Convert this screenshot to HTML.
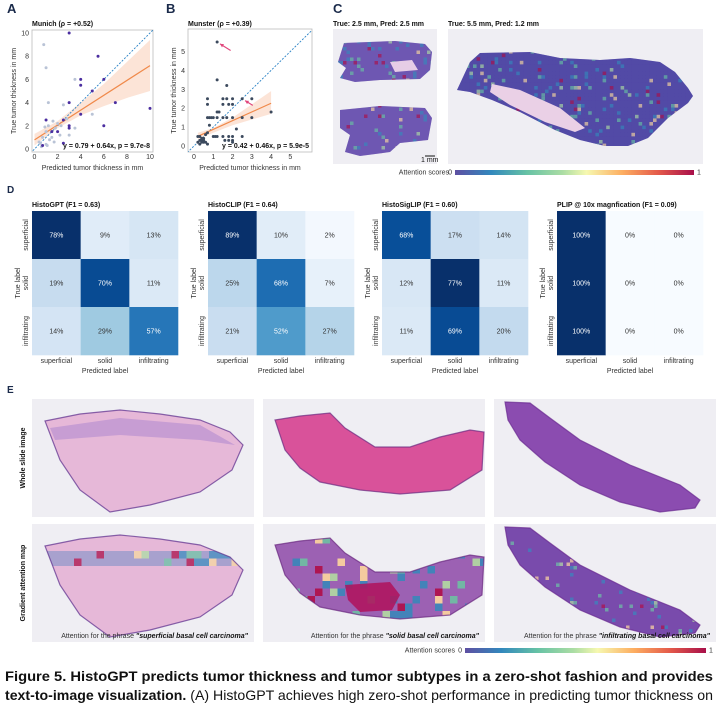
<!DOCTYPE html>
<html><head><meta charset="utf-8">
<style>
html,body{margin:0;padding:0;background:#fff;}
svg{display:block;font-family:"Liberation Sans",Arial,sans-serif;}
.t{font-size:7px;fill:#333;}
.tb{font-size:7px;font-weight:bold;fill:#111;}
.pl{font-size:13px;font-weight:bold;fill:#1a2a4a;}
</style></head>
<body>
<svg id="fig" width="728" height="708" viewBox="0 0 728 708" xmlns="http://www.w3.org/2000/svg">
<defs>
<linearGradient id="spec" x1="0" x2="1" y1="0" y2="0">
<stop offset="0" stop-color="#5e4fa2"/><stop offset="0.15" stop-color="#3288bd"/><stop offset="0.3" stop-color="#66c2a5"/><stop offset="0.45" stop-color="#abdda4"/><stop offset="0.55" stop-color="#f6f8b0"/><stop offset="0.7" stop-color="#fdae61"/><stop offset="0.85" stop-color="#e45a4a"/><stop offset="1" stop-color="#a80f4a"/>
</linearGradient>
<clipPath id="cA"><rect x="32" y="30" width="121" height="122"/></clipPath>
<clipPath id="cB"><rect x="188" y="29" width="124" height="123"/></clipPath>
</defs>
<g id="panelA"></g>
<g id="panelB"></g>
<g id="panelC"></g>
<g id="panelD"></g>
<g id="panelE"></g>
<g>
<text x="5" y="681" textLength="708" lengthAdjust="spacingAndGlyphs" style="font-size:14px;font-weight:bold;fill:#111;">Figure 5. HistoGPT predicts tumor thickness and tumor subtypes in a zero-shot fashion and provides</text>
<text x="5" y="700" textLength="708" lengthAdjust="spacingAndGlyphs" style="font-size:14px;fill:#111;"><tspan font-weight="bold">text-to-image visualization.</tspan> (A) HistoGPT achieves high zero-shot performance in predicting tumor thickness on</text>
</g>
</svg>
<script>
// ---------- DATA ----------
const munichDarkX=[3,5.5,4,6,4,5,3,7,10,4,6,3,2.5,0.7,1,1.5,2.5,2,3];
const munichDarkY=[10,8,6,6,5.5,5,4,4,3.5,3,2,2,0.5,0.3,2.5,1.5,2.5,1.5,1.8];
const munichLightX=[0.8,1,3.5,1.2,2.5,5,3.5,3,0.5,0.7,1,1.2,1.5,1.8,2,0.6,1,1.3,2.2,1.6,0.9,2.8,1.1,0.4,1.7,2.3];
const munichLightY=[9,7,6,4,3.8,3,1.8,1.2,0.5,1,1.5,2,1,1.8,2.2,0.2,0.4,0.8,1.2,2.4,1.9,2.6,0.3,0.6,0.6,2];
const munichFit=[0.79,0.64];
const munichBandX=[0,2,4,6,8,10];
const munichBandLo=[0.3,1.8,2.9,3.7,4.4,5.0];
const munichBandHi=[1.3,2.4,4.0,5.6,7.5,9.4];
const munichTicks=[0,2,4,6,8,10];

const munsterX=[1.2,1.2,1.7,0.7,0.7,1.5,1.7,2,2.5,3,1.5,1.8,2,1.2,1.3,4,0.7,0.8,0.9,1,1.2,1.5,1.7,2,2.5,3,0.8,2.2,0.7,0.6,0.3,0.2,1,1.1,1.2,1.5,1.8,2,2.5,0.4,0.5,0.3,0.2,0.4,0.5,0.6,1.6,1.8,2,2,0.3,0.7,0.4,0.5];
const munsterY=[5.5,3.5,3.2,2.5,2.2,2.5,2.5,2.5,2.5,2.5,2.2,2.2,2.2,1.8,1.8,1.8,1.5,1.5,1.5,1.5,1.5,1.5,1.5,1.5,1.5,1.5,1.1,0.9,0.7,0.6,0.5,0.5,0.5,0.5,0.5,0.5,0.5,0.5,0.5,0.4,0.4,0.3,0.2,0.2,0.3,0.2,0.3,0.3,0.3,0.2,0.1,0.1,0.3,0.2];
const munsterFit=[0.42,0.46];
const munsterBandX=[0.2,1,2,3,4];
const munsterBandLo=[0.35,0.7,1.1,1.4,1.7];
const munsterBandHi=[0.7,0.95,1.5,2.2,2.9];
const munsterTicks=[0,1,2,3,4,5];

const cmClasses=["superficial","solid","infiltrating"];
const cmTitles=["HistoGPT (F1 = 0.63)","HistoCLIP (F1 = 0.64)","HistoSigLIP (F1 = 0.60)","PLIP @ 10x magnfication (F1 = 0.09)"];
const cmHistoGPT=[[78,9,13],[19,70,11],[14,29,57]];
const cmHistoCLIP=[[89,10,2],[25,68,7],[21,52,27]];
const cmHistoSigLIP=[[68,17,14],[12,77,11],[11,69,20]];
const cmPLIP=[[100,0,0],[100,0,0],[100,0,0]];

// ---------- HELPERS ----------
const NS="http://www.w3.org/2000/svg";
function mk(tag,attrs,parent,txt){const e=document.createElementNS(NS,tag);for(const k in attrs)e.setAttribute(k,attrs[k]);if(txt!==undefined)e.textContent=txt;parent.appendChild(e);return e;}
function lin(d0,d1,r0,r1){return v=>r0+(v-d0)/(d1-d0)*(r1-r0);}

// ---------- SCATTER ----------
function scatter(g,cfg){
  const sx=lin(0,cfg.xmax,cfg.x0,cfg.x1), sy=lin(0,cfg.ymax,cfg.y0,cfg.y1);
  let el=mk('text',{x:cfg.lx,y:13,class:'pl'},g,cfg.letter);
  
  
  el=mk('text',{x:cfg.bx0,y:26,class:'tb'},g,cfg.title);
  
  
  el=mk('rect',{x:cfg.bx0,y:cfg.by0,width:cfg.bx1-cfg.bx0,height:cfg.by1-cfg.by0,fill:'#fff',stroke:'#bbb','stroke-width':0.8},g);
  
  
  const cg=mk('g',{'clip-path':'url(#'+cfg.clip+')'},g);
  let pts=cfg.bandX.map((x,i)=>sx(x)+','+sy(cfg.bandHi[i]));
  for(let i=cfg.bandX.length-1;i>=0;i--)pts.push(sx(cfg.bandX[i])+','+sy(cfg.bandLo[i]));
  el=mk('polygon',{points:pts.join(' '),fill:'#fbd9c6','fill-opacity':0.7},cg);
  
  
  el=mk('line',{x1:sx(-1),y1:sy(-1),x2:sx(cfg.xmax+1),y2:sy(cfg.xmax+1),stroke:'#2b83c6','stroke-width':0.9,'stroke-dasharray':'2,1.5'},cg);
  
  
  const fx0=cfg.bandX[0],fx1=cfg.bandX[cfg.bandX.length-1];
  el=mk('line',{x1:sx(fx0),y1:sy(cfg.fit[0]+cfg.fit[1]*fx0),x2:sx(fx1),y2:sy(cfg.fit[0]+cfg.fit[1]*fx1),stroke:'#f0894a','stroke-width':1.2},cg);
  
  
  cfg.series.forEach(s=>{
    s.x.forEach((x,i)=>{
      const c=mk('circle',{cx:sx(x),cy:sy(s.y[i]),r:1.5,fill:s.color},cg);
      
      
    });
  });
  cfg.ticks.forEach(t=>{
    if(t<=cfg.xmax){const e=mk('text',{x:sx(t),y:cfg.by1+7,class:'t','text-anchor':'middle'},g,String(t));
    
    }
    if(t<=cfg.ymax){const e=mk('text',{x:cfg.bx0-3,y:sy(t)+2.5,class:'t','text-anchor':'end'},g,String(t));
    
    }
  });
  el=mk('text',{x:(cfg.bx0+cfg.bx1)/2,y:170,class:'t','text-anchor':'middle'},g,'Predicted tumor thickness in mm');
  
  
  const yc=(cfg.by0+cfg.by1)/2;
  el=mk('text',{x:cfg.ylx,y:yc,class:'t','text-anchor':'middle',transform:'rotate(-90 '+cfg.ylx+' '+yc+')'},g,'True tumor thickness in mm');
  
  
  el=mk('text',{x:cfg.bx1-3,y:cfg.by1-4,class:'tb','text-anchor':'end'},g,cfg.eq);
  
  
  return {sx,sy};
}
const A=scatter(document.getElementById('panelA'),{letter:'A',lx:7,title:'Munich (\u03C1 = +0.52)',bx0:32,bx1:153,by0:30,by1:152,x0:34.5,x1:150,y0:149,y1:33,xmax:10,ymax:10,clip:'cA',
 bandX:munichBandX,bandLo:munichBandLo,bandHi:munichBandHi,fit:munichFit,ticks:munichTicks,ylx:16,
 series:[{x:munichLightX,y:munichLightY,color:'#b9c3d6'},{x:munichDarkX,y:munichDarkY,color:'#4b2ea0'}],
 eq:'y = 0.79 + 0.64x, p = 9.7e-8'});
const B=scatter(document.getElementById('panelB'),{letter:'B',lx:166,title:'Munster (\u03C1 = +0.39)',bx0:188,bx1:312,by0:29,by1:152,x0:194,x1:300,y0:146,y1:42,xmax:5.5,ymax:5.5,clip:'cB',
 bandX:munsterBandX,bandLo:munsterBandLo,bandHi:munsterBandHi,fit:munsterFit,ticks:munsterTicks,ylx:176,
 series:[{x:munsterX,y:munsterY,color:'#3c4a5e'}],
 eq:'y = 0.42 + 0.46x, p = 5.9e-5'});
(function(){const g=document.getElementById('panelB');
 [[1.35,5.4,1.9,5.05],[2.65,2.4,3.05,2.15]].forEach(a=>{
  const x1=B.sx(a[2]),y1=B.sy(a[3]),x2=B.sx(a[0]),y2=B.sy(a[1]);
  const ar=mk('g',{},g);
  
  
  mk('line',{x1,y1,x2,y2,stroke:'#e0457b','stroke-width':1.1},ar);
  const ang=Math.atan2(y2-y1,x2-x1);const L=4;
  const p=[[x2,y2],[x2-L*Math.cos(ang-0.5),y2-L*Math.sin(ang-0.5)],[x2-L*Math.cos(ang+0.5),y2-L*Math.sin(ang+0.5)]];
  mk('polygon',{points:p.map(q=>q.join(',')).join(' '),fill:'#e0457b'},ar);
 });})();

// ---------- TISSUE HELPERS (decorative texture) ----------
const spec=['#3288bd','#66c2a5','#3288bd','#abdda4','#66c2a5','#f6d8a0','#3288bd','#a80f4a'];
function hsh(a,b){const v=Math.sin(a*12.9898+b*78.233)*43758.5453;return v-Math.floor(v);}
let clipId=0;
function tissue(g,d,fill,border,grid,gridOpts){
  const id='tc'+(clipId++);
  const defs=mk('defs',{},g);const cp=mk('clipPath',{id},defs);mk('path',{d},cp);
  mk('path',{d,fill},g);
  if(grid){
    const gg=mk('g',{'clip-path':'url(#'+id+')'},g);
    const [x0,y0,x1,y1,s,base,op,hot]=gridOpts;
    for(let y=y0;y<y1;y+=s)for(let x=x0;x<x1;x+=s){
      let c=base,o=op;const h=hsh(x,y);
      if(h<hot){c=spec[Math.floor(h/hot*8)];o=Math.min(1,op+0.35);}
      mk('rect',{x,y,width:s,height:s,fill:c,'fill-opacity':o},gg);}
  }
  if(border)mk('path',{d,fill:'none',stroke:border,'stroke-width':1.2,opacity:0.7},g);
  return id;
}
function box(g,x,y,w,h,name){const r=mk('rect',{x,y,width:w,height:h,fill:'#efeef3'},g);
  
  }
function cbar(g,x,y,w,lx){
  const c=mk('g',{},g);
  
  
  mk('text',{x:lx,y:y+4.5,class:'t','text-anchor':'end'},c,'Attention scores');
  mk('text',{x:x-3,y:y+4.5,class:'t','text-anchor':'end'},c,'0');
  mk('rect',{x,y,width:w,height:5,fill:'url(#spec)'},c);
  mk('text',{x:x+w+3,y:y+4.5,class:'t'},c,'1');
}

// ---------- PANEL C ----------
(function(){const g=document.getElementById('panelC');
 let e=mk('text',{x:333,y:13,class:'pl'},g,'C');
 
 
 e=mk('text',{x:333,y:26,class:'tb'},g,'True: 2.5 mm, Pred: 2.5 mm');
 
 
 e=mk('text',{x:448,y:26,class:'tb'},g,'True: 5.5 mm, Pred: 1.2 mm');
 
 
 box(g,333,29,104,135,'slide-image-1');box(g,448,29,255,135,'slide-image-2');
 tissue(g,'M344,43 L395,41 L425,44 L432,52 L430,70 L420,79 L380,80 L355,82 L340,78 L346,68 L338,62 Z','#7458b0',null,true,[336,40,434,84,3.5,'#5f57b5',0.3,0.12]);
 tissue(g,'M340,110 L380,106 L425,108 L432,118 L428,140 L400,143 L390,152 L360,156 L345,152 L350,135 L340,128 Z','#7458b0',null,true,[336,104,434,158,3.5,'#5f57b5',0.3,0.12]);
 mk('path',{d:'M390,62 L412,60 L418,70 L395,72 Z',fill:'#e6cde6'},g);
 mk('line',{x1:425,y1:156,x2:435,y2:156,stroke:'#111','stroke-width':1},g);
 mk('text',{x:421,y:162,class:'t',style:'fill:#111'},g,'1 mm');
 tissue(g,'M457,90 L470,62 L480,53 L530,52 L560,58 L600,60 L630,58 L660,62 L675,72 L688,88 L693,96 L688,103 L668,118 L648,138 L628,146 L605,146 L580,140 L555,130 L520,112 L492,100 L470,92 Z','#5548a3',null,true,[455,50,695,150,3.6,'#4c4fae',0.3,0.12]);
 mk('path',{d:'M492,84 L520,90 L560,108 L585,128 L575,132 L545,122 L510,105 L490,92 Z',fill:'#ead0e6'},g);
 cbar(g,455,170,239,449);
})();

// ---------- PANEL D ----------
const blues=['#f7fbff','#deebf7','#c6dbef','#9ecae1','#6baed6','#4292c6','#2171b5','#08519c','#08306b'];
function hex2(h){return [1,3,5].map(i=>parseInt(h.substr(i,2),16));}
function bcol(t){t=Math.max(0,Math.min(1,t));const p=t*8,i=Math.min(7,Math.floor(p)),f=p-i;const a=hex2(blues[i]),b=hex2(blues[i+1]);return 'rgb('+a.map((v,j)=>Math.round(v+(b[j]-v)*f)).join(',')+')';}
(function(){const g=document.getElementById('panelD');
 let e=mk('text',{x:7,y:193,class:'pl',style:'font-size:10px'},g,'D');
 
 
 const mats=[cmHistoGPT,cmHistoCLIP,cmHistoSigLIP,cmPLIP];
 const xs=[32,208,382,557];const W=146,H=144,y0=211;
 mats.forEach((m,mi)=>{
  const mg=mk('g',{},g);
  
  
  const x0=xs[mi];let mx=0;m.forEach(r=>r.forEach(v=>mx=Math.max(mx,v)));
  const t=mk('text',{x:x0,y:207,class:'tb'},mg,cmTitles[mi]);
  
  
  m.forEach((row,r)=>row.forEach((v,c)=>{
   const n=v/mx;
   const cell=mk('rect',{x:x0+c*W/3,y:y0+r*H/3,width:W/3+0.3,height:H/3+0.3,fill:bcol(n)},mg);
   
   
   const lb=mk('text',{x:x0+c*W/3+W/6,y:y0+r*H/3+H/6+2.5,class:'t','text-anchor':'middle',style:'fill:'+(n>0.55?'#fff':'#333')},mg,v+'%');
   
   
  }));
  cmClasses.forEach((c,i)=>{
   const xl=mk('text',{x:x0+i*W/3+W/6,y:y0+H+8,class:'t','text-anchor':'middle'},mg,c);
   
   
   const yy=y0+i*H/3+H/6,xx=x0-4;
   const yl=mk('text',{x:xx,y:yy,class:'t','text-anchor':'middle',transform:'rotate(-90 '+xx+' '+yy+')'},mg,c);
   
   
  });
  const px=mk('text',{x:x0+W/2,y:y0+H+18,class:'t','text-anchor':'middle'},mg,'Predicted label');
  
  
  const yx=x0-12,yy=y0+H/2;
  const py=mk('text',{x:yx,y:yy,class:'t','text-anchor':'middle',transform:'rotate(-90 '+yx+' '+yy+')'},mg,'True label');
  
  
 });
})();

// ---------- PANEL E ----------
(function(){const g=document.getElementById('panelE');
 let e=mk('text',{x:7,y:393,class:'pl',style:'font-size:10px'},g,'E');
 
 
 const xs=[32,263,494],w=222,rows=[399,524],h=118;
 const shapes=[
  (dy)=>'M45,'+(421+dy)+' L80,'+(414+dy)+' L120,'+(410+dy)+' L160,'+(414+dy)+' L200,'+(420+dy)+' L230,'+(432+dy)+' L243,'+(445+dy)+' L232,'+(470+dy)+' L200,'+(492+dy)+' L150,'+(505+dy)+' L110,'+(512+dy)+' L80,'+(490+dy)+' L60,'+(460+dy)+' Z',
  (dy)=>'M275,'+(420+dy)+' L300,'+(416+dy)+' L330,'+(413+dy)+' L345,'+(428+dy)+' L375,'+(447+dy)+' L410,'+(447+dy)+' L440,'+(437+dy)+' L470,'+(430+dy)+' L484,'+(432+dy)+' L482,'+(470+dy)+' L450,'+(490+dy)+' L400,'+(494+dy)+' L360,'+(490+dy)+' L320,'+(482+dy)+' L300,'+(468+dy)+' L285,'+(450+dy)+' Z',
  (dy)=>'M505,'+(402+dy)+' L530,'+(403+dy)+' L550,'+(418+dy)+' L580,'+(440+dy)+' L630,'+(465+dy)+' L680,'+(485+dy)+' L700,'+(500+dy)+' L695,'+(508+dy)+' L660,'+(512+dy)+' L620,'+(502+dy)+' L580,'+(485+dy)+' L545,'+(462+dy)+' L520,'+(440+dy)+' L508,'+(420+dy)+' Z'];
 const fills=['#e6b8d8','#d9529a','#8b4cb0'];
 const borders=['#5a2b8c','#6a2a80','#6a2a90'];
 const phr=['superficial basal cell carcinoma','solid basal cell carcinoma','infiltrating basal cell carcinoma'];
 rows.forEach((ry,ri)=>{xs.forEach((x,ci)=>{
  box(g,x,ry,w,h,(ri?'attention-map-':'whole-slide-image-')+(ci+1));
  const dy=ri*125;const d=shapes[ci](dy);
  let grid=false,opts=null;
  if(ri===1){
   if(ci===0){grid=true;opts=[44,ry+27,244,ry+41,7.5,'#4a7fc0',0.4,0.35];}
   if(ci===1){grid=true;opts=[270,ry+12,486,ry+100,7.5,'#6a6ec8',0.55,0.2];}
   if(ci===2){grid=true;opts=[500,ry,705,ry+115,3.5,'#5a4aa5',0.35,0.08];}
  }
  const cid=tissue(g,d,fills[ci],borders[ci],grid,opts);
  if(ri===0&&ci===0)mk('path',{d:'M50,428 L120,418 L200,425 L235,445 L200,440 L120,435 L55,440 Z',fill:'#b38bd0',opacity:0.6},g);
  if(ri===1&&ci===1){
   const cg=mk('g',{'clip-path':'url(#'+cid+')'},g);
   const hc=mk('path',{d:'M345,585 L390,582 L400,595 L392,610 L360,612 L348,600 Z',fill:'#b0125a','fill-opacity':0.85},cg);
   
   
  }
  if(ri===1){
   const t=mk('text',{x:x+w-6,y:ry+h-4,class:'t','text-anchor':'end'},g,'');
   
   
   mk('tspan',{},t,'Attention for the phrase ');
   mk('tspan',{'font-weight':'bold','font-style':'italic',fill:'#111'},t,'"'+phr[ci]+'"');
  }
 });});
 e=mk('text',{x:25,y:458,class:'tb','text-anchor':'middle',transform:'rotate(-90 25 458)'},g,'Whole slide image');
 
 
 e=mk('text',{x:25,y:583,class:'tb','text-anchor':'middle',transform:'rotate(-90 25 583)'},g,'Gradient attention map');
 
 
 cbar(g,465,648,241,455);
})();
</script>
</body></html>
